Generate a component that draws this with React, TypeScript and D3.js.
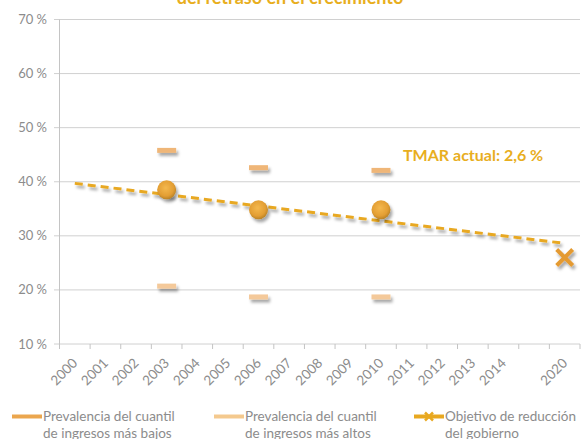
import React from 'react'
import * as d3 from 'd3'

const years = ['2000', '2001', '2002', '2003', '2004', '2005', '2006', '2007', '2008', '2009', '2010', '2011', '2012', '2013', '2014', '', '2020']
const surveyYears = ['2003', '2006', '2010']
const lowestQuintile = [45.8, 42.6, 42.1]
const highestQuintile = [20.7, 18.7, 18.7]
const average = [38.5, 34.8, 34.8]
const targetYear = '2020'
const targetValue = 26.0
const trendYears = ['2000', '2020']
const trendValues = [39.7, 28.6]
const yTicks = [10, 20, 30, 40, 50, 60, 70]

const W = 581
const H = 439
const FONT = 'Lato, "Open Sans", sans-serif'

const x = d3.scaleBand<number>()
    .domain(d3.range(years.length))
    .range([59.5, 580])
    .padding(0)

const y = d3.scaleLinear()
    .domain([10, 70])
    .range([344, 19.5])

const cx = (yr: string) => x(years.indexOf(yr))! + x.bandwidth() / 2

const App = () => {
    const trendLine = d3.line<number>()
        .x((_, i) => cx(trendYears[i]))
        .y(d => y(d))

    const legend = [
        { x: 12, color: '#EBA64E', lines: ['Prevalencia del cuantil', 'de ingresos más bajos'], cross: false },
        { x: 214, color: '#F4C98E', lines: ['Prevalencia del cuantil', 'de ingresos más altos'], cross: false },
        { x: 414, color: '#E8A820', lines: ['Objetivo de reducción', 'del gobierno'], cross: true },
    ]

    return (
        <svg width={W} height={H} style={{ position: 'absolute', left: 0, top: 0 }} fontFamily={FONT}>
            <defs>
                <filter id="shadow" x="-50%" y="-50%" width="200%" height="200%">
                    <feDropShadow dx="2" dy="3" stdDeviation="1.6" floodColor="#000" floodOpacity="0.35" />
                </filter>
                <radialGradient id="ball" cx="45%" cy="40%" r="60%">
                    <stop offset="0%" stopColor="#F4B84E" />
                    <stop offset="70%" stopColor="#E39E33" />
                    <stop offset="100%" stopColor="#B98227" />
                </radialGradient>
            </defs>
            <rect width={W} height={H} fill="#fff" />

            <text x={290} y={4} textAnchor="middle" fill="#E8AE1E" fontSize={18} fontWeight="bold">
                del retraso en el crecimiento
            </text>

            {/* grid + y axis */}
            {yTicks.map(t => (
                <g key={t}>
                    <line x1={54} x2={580} y1={y(t)} y2={y(t)} stroke="#d0d0d0" strokeWidth={1} />
                    <text x={47} y={y(t)} dy="0.35em" textAnchor="end" fill="#8c8c8c" fontSize={13}>{t} %</text>
                </g>
            ))}
            <line x1={59.5} x2={59.5} y1={y(70)} y2={y(10)} stroke="#c4c4c4" />

            {/* x axis */}
            {d3.range(years.length + 1).map(i => {
                const px = i < years.length ? x(i)! : x.range()[1]
                return <line key={i} x1={px} x2={px} y1={y(10)} y2={y(10) + 5} stroke="#c4c4c4" />
            })}
            {years.map((yr, i) => yr && (
                <text key={yr} transform={`translate(${cx(yr) + 3.5},${y(10) + 20}) rotate(-45)`}
                    textAnchor="end" fill="#8c8c8c" fontSize={13.5}>{yr}</text>
            ))}

            {/* trend */}
            <path d={trendLine(trendValues)!} fill="none" stroke="#E8A820" strokeWidth={3}
                strokeDasharray="8,5" filter="url(#shadow)" />

            {/* quintile dashes and average */}
            {surveyYears.map((yr, i) => (
                <g key={yr} filter="url(#shadow)">
                    <rect x={cx(yr) - 9.5} y={y(lowestQuintile[i]) - 2.5} width={19} height={5} fill="#EFB678" />
                    <rect x={cx(yr) - 9.5} y={y(highestQuintile[i]) - 2.5} width={19} height={5} fill="#F4C99A" />
                    <circle cx={cx(yr)} cy={y(average[i])} r={9.5} fill="url(#ball)" />
                </g>
            ))}

            {/* target */}
            <g filter="url(#shadow)" stroke="#E49A30" strokeWidth={4}>
                <line x1={cx(targetYear) - 8} x2={cx(targetYear) + 8} y1={y(targetValue) - 8} y2={y(targetValue) + 8} />
                <line x1={cx(targetYear) - 8} x2={cx(targetYear) + 8} y1={y(targetValue) + 8} y2={y(targetValue) - 8} />
            </g>

            <text x={403} y={161} fill="#E8AE1E" fontSize={16} fontWeight="bold">TMAR actual: 2,6 %</text>

            {/* legend */}
            {legend.map(l => (
                <g key={l.x}>
                    <line x1={l.x} x2={l.x + 30} y1={416.5} y2={416.5} stroke={l.color} strokeWidth={4} />
                    {l.cross && (
                        <g stroke={l.color} strokeWidth={2.5}>
                            <line x1={l.x + 11} x2={l.x + 19} y1={412.5} y2={420.5} />
                            <line x1={l.x + 11} x2={l.x + 19} y1={420.5} y2={412.5} />
                        </g>
                    )}
                    {l.lines.map((s, j) => (
                        <text key={j} x={l.x + 31} y={421 + j * 17} fill="#8c8c8c" fontSize={13.5}>{s}</text>
                    ))}
                </g>
            ))}
        </svg>
    )
}

export default App
